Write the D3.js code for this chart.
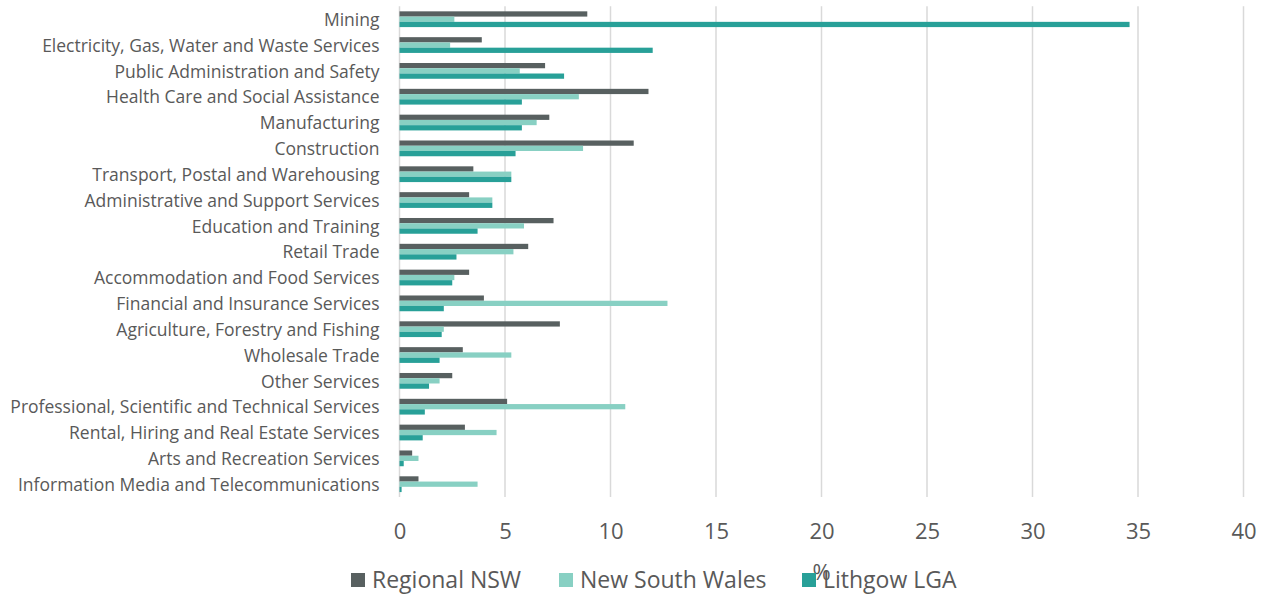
<!DOCTYPE html>
<html>
<head>
<meta charset="utf-8">
<script src="https://cdn.jsdelivr.net/npm/d3@7"></script>
<style>
  html, body { margin: 0; padding: 0; background: #ffffff; }
  svg { display: block; font-family: "Open Sans", "Noto Sans", sans-serif; }
</style>
</head>
<body>
<svg id="chart" width="1266" height="598"></svg>
<script>
// Industries of employment, % of employed persons
const industries = [
  "Mining",
  "Electricity, Gas, Water and Waste Services",
  "Public Administration and Safety",
  "Health Care and Social Assistance",
  "Manufacturing",
  "Construction",
  "Transport, Postal and Warehousing",
  "Administrative and Support Services",
  "Education and Training",
  "Retail Trade",
  "Accommodation and Food Services",
  "Financial and Insurance Services",
  "Agriculture, Forestry and Fishing",
  "Wholesale Trade",
  "Other Services",
  "Professional, Scientific and Technical Services",
  "Rental, Hiring and Real Estate Services",
  "Arts and Recreation Services",
  "Information Media and Telecommunications"
];

const seriesNames = ["Regional NSW", "New South Wales", "Lithgow LGA"];

const regionalNSW = [8.9, 3.9, 6.9, 11.8, 7.1, 11.1, 3.5, 3.3, 7.3, 6.1, 3.3, 4.0, 7.6, 3.0, 2.5, 5.1, 3.1, 0.6, 0.9];
const newSouthWales = [2.6, 2.4, 5.7, 8.5, 6.5, 8.7, 5.3, 4.4, 5.9, 5.4, 2.6, 12.7, 2.1, 5.3, 1.9, 10.7, 4.6, 0.9, 3.7];
const lithgowLGA = [34.6, 12.0, 7.8, 5.8, 5.8, 5.5, 5.3, 4.4, 3.7, 2.7, 2.5, 2.1, 2.0, 1.9, 1.4, 1.2, 1.1, 0.2, 0.1];

const xTicks = [0, 5, 10, 15, 20, 25, 30, 35, 40];
const axisTitle = "%";

const seriesValues = [regionalNSW, newSouthWales, lithgowLGA];
const colors = ["#586060", "#88d0c3", "#28a098"];
const textColor = "#595959";

const svg = d3.select("#chart");
const plot = { left: 399.5, right: 1243.5, top: 6.3, bottom: 497.1 };

const x = d3.scaleLinear().domain([0, 40]).range([plot.left, plot.right]);

const y = d3.scaleBand()
  .domain(industries)
  .range([plot.top, plot.bottom])
  .paddingInner(0.39)
  .paddingOuter(0.195);

const ySub = d3.scaleBand()
  .domain(seriesNames)
  .range([0, y.bandwidth()]);

// vertical gridlines
svg.append("g")
  .selectAll("line")
  .data(xTicks)
  .join("line")
  .attr("x1", d => x(d)).attr("x2", d => x(d))
  .attr("y1", plot.top).attr("y2", plot.bottom)
  .attr("stroke", "#d9d9d9")
  .attr("stroke-width", 1.5);

// bars
const rows = industries.map((name, i) => ({
  name,
  values: seriesNames.map((s, k) => ({ series: s, k, value: seriesValues[k][i] }))
}));

svg.append("g")
  .selectAll("g")
  .data(rows)
  .join("g")
  .attr("transform", d => `translate(0,${y(d.name)})`)
  .selectAll("rect")
  .data(d => d.values)
  .join("rect")
  .attr("x", x(0))
  .attr("y", d => ySub(d.series))
  .attr("width", d => x(d.value) - x(0))
  .attr("height", ySub.bandwidth())
  .attr("fill", d => colors[d.k]);

// category axis
const yAxis = svg.append("g")
  .attr("transform", `translate(${plot.left - 20},0)`)
  .call(d3.axisLeft(y).tickSize(0).tickPadding(0));
yAxis.select(".domain").remove();
yAxis.selectAll("text")
  .attr("fill", textColor)
  .attr("font-size", "17.5px")
  .attr("font-family", "'Open Sans', sans-serif")
  .attr("dy", "0.38em");

// value axis
const xAxis = svg.append("g")
  .attr("transform", `translate(0,${plot.bottom})`)
  .call(d3.axisBottom(x).tickValues(xTicks).tickSize(0).tickPadding(26));
xAxis.select(".domain").remove();
xAxis.selectAll("text")
  .attr("fill", textColor)
  .attr("font-size", "22px")
  .attr("font-family", "'Open Sans', sans-serif");

// axis title (sits on the legend row)
svg.append("text")
  .attr("x", (plot.left + plot.right) / 2)
  .attr("y", 580)
  .attr("text-anchor", "middle")
  .attr("fill", textColor)
  .attr("font-size", "22px")
  .text(axisTitle);

// legend
const legendX = [351, 559, 802];
const legend = svg.append("g")
  .selectAll("g")
  .data(seriesNames)
  .join("g")
  .attr("transform", (d, i) => `translate(${legendX[i]},573)`);
legend.append("rect")
  .attr("width", 14).attr("height", 14)
  .attr("fill", (d, i) => colors[i]);
legend.append("text")
  .attr("x", 21)
  .attr("y", 15)
  .attr("fill", textColor)
  .attr("font-size", "23px")
  .text(d => d);
</script>
</body>
</html>
